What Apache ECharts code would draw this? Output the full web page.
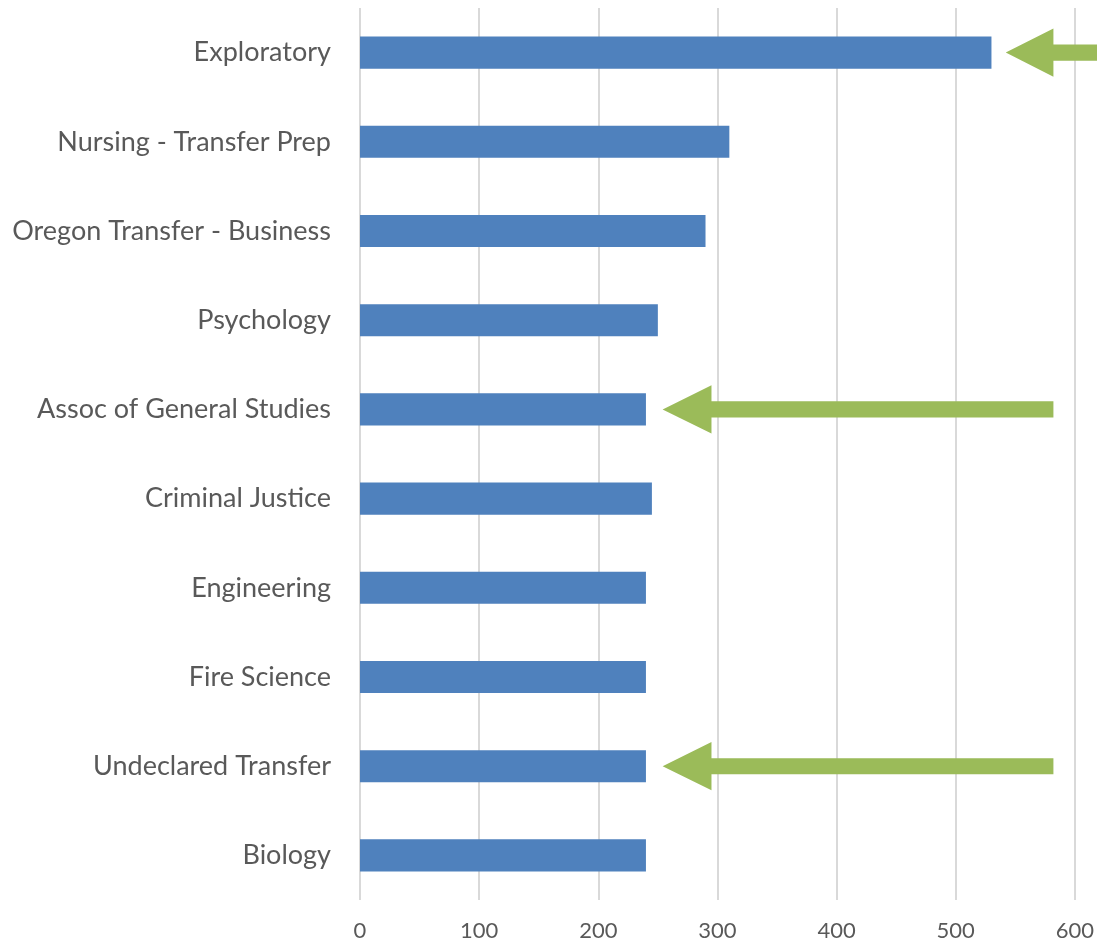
<!DOCTYPE html>
<html>
<head>
<meta charset="utf-8">
<script src="https://cdn.jsdelivr.net/npm/echarts@6/dist/echarts.min.js"></script>
<style>
  html, body { margin: 0; padding: 0; background: #fff; }
  #chart { width: 1097px; height: 944px; }
</style>
</head>
<body>
<div id="chart"></div>
<script>
// programmes, top to bottom
const programs = [
  'Exploratory',
  'Nursing - Transfer Prep',
  'Oregon Transfer - Business',
  'Psychology',
  'Assoc of General Studies',
  'Criminal Justice',
  'Engineering',
  'Fire Science',
  'Undeclared Transfer',
  'Biology'
]
const counts = [530, 310, 290, 250, 240, 245, 240, 240, 240, 240]
const xTicks = [0, 100, 200, 300, 400, 500, 600]

// callout arrows: [category, tip, head base, tail] in axis units
const arrows = [
  ['Exploratory', 542, 582, 620],
  ['Assoc of General Studies', 254, 295, 582],
  ['Undeclared Transfer', 254, 295, 582]
]

const chart = echarts.init(document.getElementById('chart'))

const option = {
  animation: false,
  textStyle: { fontFamily: 'Lato' },
  grid: { left: 360, right: 21, top: 8, bottom: 44 },
  xAxis: {
    type: 'value',
    min: xTicks[0],
    max: xTicks[xTicks.length - 1],
    interval: 100,
    axisLine: { show: false },
    axisTick: { show: false },
    axisLabel: { color: '#595959', fontSize: 22, margin: 20 },
    splitLine: { lineStyle: { color: '#D9D9D9', width: 2 } }
  },
  yAxis: {
    type: 'category',
    data: programs,
    inverse: true,
    axisLine: { show: false },
    axisTick: { show: false },
    axisLabel: { color: '#595959', fontSize: 27, margin: 29 }
  },
  series: [
    {
      type: 'bar',
      data: counts,
      barWidth: '36%',
      itemStyle: { color: '#4F81BD' }
    },
    {
      type: 'custom',
      clip: false,
      z: 5,
      data: arrows.map(a => [programs.indexOf(a[0]), a[1], a[2], a[3]]),
      renderItem: function (params, api) {
        const idx = api.value(0)
        const tip = api.coord([api.value(1), idx])
        const base = api.coord([api.value(2), idx])
        const tail = api.coord([api.value(3), idx])
        const band = api.size([0, 1])[1]
        const hh = band * 0.27
        const sh = band * 0.09
        const y = tip[1]
        return {
          type: 'polygon',
          shape: {
            points: [
              [tip[0], y],
              [base[0], y - hh],
              [base[0], y - sh],
              [tail[0], y - sh],
              [tail[0], y + sh],
              [base[0], y + sh],
              [base[0], y + hh]
            ]
          },
          style: { fill: '#9BBB59' }
        }
      }
    }
  ]
}

chart.setOption(option)
</script>
</body>
</html>
